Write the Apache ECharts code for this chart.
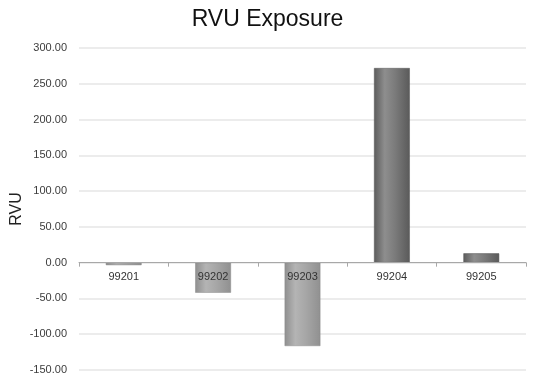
<!DOCTYPE html>
<html>
<head>
<meta charset="utf-8">
<script src="https://cdn.jsdelivr.net/npm/echarts@6/dist/echarts.min.js"></script>
<style>
  html, body { margin: 0; padding: 0; background: #fff; }
  #chart { width: 535px; height: 383px; }
</style>
</head>
<body>
<div id="chart"></div>
<script>
// RVU exposure per CPT code
const codes = ['99201', '99202', '99203', '99204', '99205'];
const rvu = [-3.5, -42, -116.5, 272, 13];
const yTicks = { min: -150, max: 300, step: 50 };

// Bars get a soft cylinder-like horizontal shading; negatives are lighter.
function shade(v) {
  const stops = v >= 0
    ? ['#5c5c5c', '#8e8e8e', '#7a7a7a', '#5a5a5a']
    : ['#8f8f8f', '#b4b4b4', '#a6a6a6', '#909090'];
  return new echarts.graphic.LinearGradient(0, 0, 1, 0, [
    { offset: 0, color: stops[0] },
    { offset: 0.3, color: stops[1] },
    { offset: 0.6, color: stops[2] },
    { offset: 1, color: stops[3] }
  ]);
}

const gridTop = 48, gridBottom = 13, chartH = 383;
const plotH = chartH - gridTop - gridBottom;
// distance from the plot's bottom edge up to the zero line
const zeroLift = plotH * (0 - yTicks.min) / (yTicks.max - yTicks.min);

const chart = echarts.init(document.getElementById('chart'), null, { renderer: 'canvas' });
chart.setOption({
  animation: false,
  backgroundColor: '#ffffff',
  title: {
    text: 'RVU Exposure',
    left: 'center',
    top: 3,
    textStyle: { fontFamily: 'Liberation Sans, Arial', fontSize: 23, fontWeight: 'normal', color: '#111' }
  },
  grid: { left: 79, right: 9, top: gridTop, bottom: gridBottom, containLabel: false, outerBoundsMode: 'none' },
  xAxis: {
    type: 'category',
    data: codes,
    position: 'bottom',
    offset: -zeroLift,
    axisLine: { onZero: false, lineStyle: { color: '#a8a8a8', width: 1 } },
    axisTick: { show: true, alignWithLabel: false, length: 4, lineStyle: { color: '#a8a8a8' } },
    axisLabel: { color: '#333', fontFamily: 'Liberation Sans, Arial', fontSize: 11, margin: 9 },
    z: 10
  },
  yAxis: {
    type: 'value',
    min: yTicks.min,
    max: yTicks.max,
    interval: yTicks.step,
    name: 'RVU',
    nameLocation: 'middle',
    nameGap: 54,
    nameRotate: 90,
    nameMoveOverlap: false,
    nameTextStyle: { color: '#222', fontFamily: 'Liberation Sans, Arial', fontSize: 16 },
    axisLine: { show: false },
    axisTick: { show: false },
    axisLabel: {
      color: '#3c3c3c', fontFamily: 'Liberation Sans, Arial', fontSize: 11, margin: 12,
      formatter: v => v.toFixed(2)
    },
    splitLine: { lineStyle: { color: '#e6e6e6', width: 1.5 } }
  },
  series: [{
    type: 'bar',
    data: rvu.map(v => ({
      value: v,
      itemStyle: { color: shade(v), borderColor: v >= 0 ? '#555' : '#8a8a8a', borderWidth: 0.5 }
    })),
    barWidth: '40%',
    z: 2
  }]
});
</script>
</body>
</html>
